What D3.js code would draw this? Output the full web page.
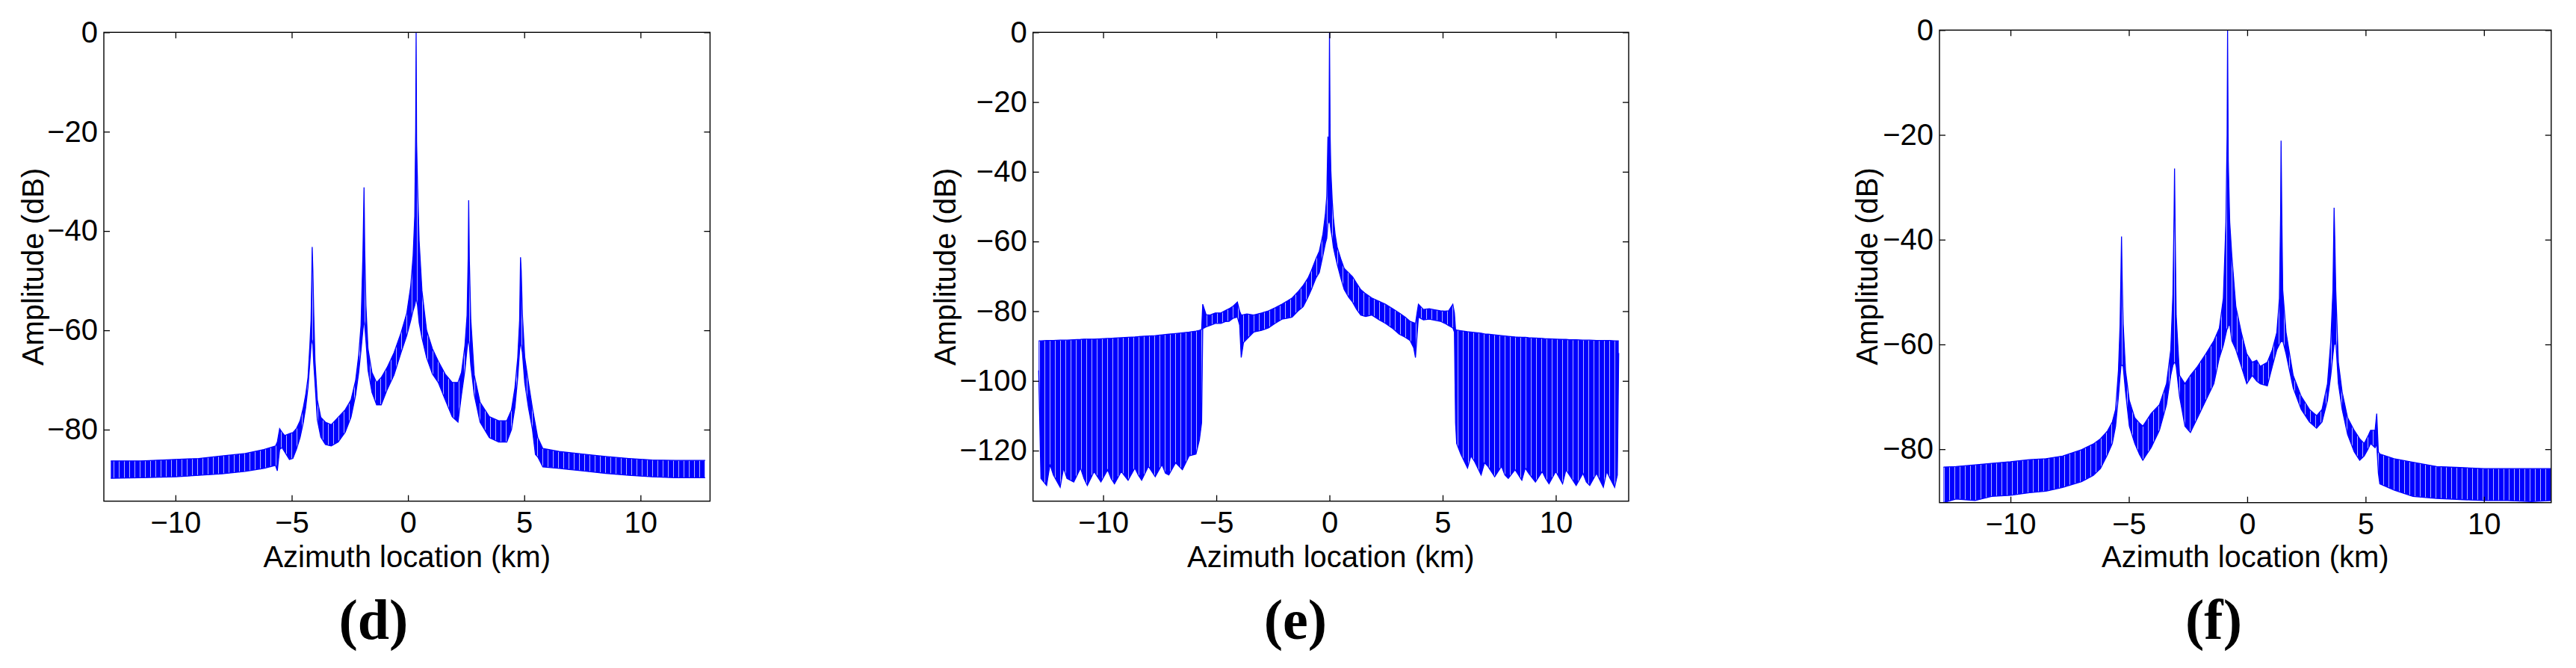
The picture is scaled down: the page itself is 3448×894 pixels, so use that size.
<!DOCTYPE html>
<html>
<head>
<meta charset="utf-8">
<script src="https://cdn.jsdelivr.net/npm/d3@7"></script>
<style>
  body { margin: 0; background: #fff; }
  svg { display: block; }
</style>
</head>
<body>
<svg id="chart" width="3448" height="894"></svg>
<script>
// traces: [azimuth km, upper edge dB, lower edge dB]
const traceD = [
  [-12.78, -86.3, -89.8], [-11.5, -86.3, -89.7], [-10.0, -86.0, -89.5], [-9.0, -85.8, -89.2],
  [-8.0, -85.3, -88.9], [-7.0, -84.8, -88.4], [-6.2, -84.0, -87.8], [-5.7, -83.3, -87.2],
  [-5.62, -82.5, -88.3], [-5.52, -79.8, -84.0], [-5.42, -80.5, -83.6], [-5.3, -81.2, -84.5],
  [-5.1, -80.8, -86.0], [-4.95, -80.6, -85.8], [-4.8, -79.8, -84.0], [-4.64, -78.2, -81.6],
  [-4.5, -75.5, -78.5], [-4.4, -73.0, -75.6], [-4.3, -69.5, -71.5], [-4.22, -63.0, -66.5],
  [-4.17, -58.0, -63.0], [-4.14, -50.0, -62.0], [-4.12, -43.2, -62.0], [-4.09, -48.0, -63.0],
  [-4.05, -57.0, -67.0], [-4.0, -66.0, -70.5], [-3.9, -74.0, -78.0], [-3.75, -77.5, -81.5],
  [-3.55, -78.5, -83.0], [-3.3, -79.0, -83.3], [-3.0, -77.5, -82.5], [-2.7, -76.0, -80.5],
  [-2.45, -74.0, -77.5], [-2.25, -70.0, -73.0], [-2.12, -65.0, -68.5], [-2.02, -59.0, -64.0],
  [-1.94, -45.0, -60.0], [-1.89, -31.2, -58.0], [-1.86, -44.0, -59.0], [-1.81, -55.0, -62.0],
  [-1.72, -63.7, -68.0], [-1.55, -68.5, -72.5], [-1.35, -70.5, -75.0], [-1.15, -69.5, -75.0],
  [-0.9, -67.5, -72.0], [-0.6, -64.5, -69.0], [-0.3, -60.5, -64.5], [-0.05, -56.5, -61.0],
  [0.12, -51.0, -58.0], [0.22, -45.0, -56.0], [0.29, -37.0, -55.0], [0.33, -20.0, -54.0],
  [0.35, 0, -54.0], [0.37, -22.0, -54.0], [0.41, -30.5, -55.0], [0.48, -42.0, -58.5],
  [0.6, -52.0, -61.5], [0.8, -60.0, -65.5], [1.05, -63.7, -68.8], [1.3, -66.2, -70.5],
  [1.6, -68.8, -74.0], [1.9, -70.5, -77.4], [2.15, -70.5, -78.5], [2.3, -68.5, -73.0],
  [2.45, -63.0, -68.0], [2.54, -57.0, -63.7], [2.59, -45.0, -62.0], [2.61, -33.8, -62.0],
  [2.64, -46.0, -63.0], [2.7, -57.7, -67.0], [2.85, -69.0, -73.0], [3.1, -74.5, -78.5],
  [3.5, -77.4, -81.6], [3.9, -78.2, -82.5], [4.25, -78.2, -82.5], [4.45, -76.0, -80.0],
  [4.6, -71.5, -75.5], [4.72, -65.5, -69.5], [4.8, -58.0, -64.0], [4.84, -45.3, -62.5],
  [4.87, -48.0, -63.0], [4.92, -56.8, -64.5], [5.02, -65.4, -70.5], [5.18, -70.5, -75.6],
  [5.35, -75.6, -79.9], [5.48, -79.0, -85.0], [5.58, -81.6, -85.5], [5.8, -83.8, -87.5],
  [6.5, -84.4, -87.8], [7.5, -84.9, -88.3], [8.5, -85.4, -88.8], [9.5, -85.8, -89.2],
  [10.5, -86.1, -89.5], [11.5, -86.2, -89.7], [12.78, -86.2, -89.7]
];

const traceE = [
  [-12.85, -88.5, -97], [-12.75, -88.5, -128], [-12.5, -88.4, -130], [-12.35, -88.4, -124],
  [-12.2, -88.4, -127], [-11.9, -88.3, -130.5], [-11.75, -88.3, -125], [-11.6, -88.3, -128],
  [-11.3, -88.2, -129], [-11.0, -88.1, -125], [-10.85, -88.0, -128], [-10.7, -88.0, -130],
  [-10.4, -88.0, -126], [-10.1, -87.9, -129], [-9.8, -87.8, -125.5], [-9.65, -87.8, -128],
  [-9.5, -87.7, -129.5], [-9.2, -87.6, -126], [-8.9, -87.5, -128.5], [-8.6, -87.4, -125],
  [-8.45, -87.3, -127], [-8.3, -87.2, -128.5], [-8.0, -87.1, -124.5], [-7.7, -87.0, -127.5],
  [-7.4, -86.8, -124], [-7.25, -86.7, -126.5], [-7.1, -86.6, -127], [-6.8, -86.4, -123.5],
  [-6.5, -86.2, -125.5], [-6.2, -86.0, -121.5], [-5.9, -85.7, -121], [-5.75, -85.5, -117],
  [-5.65, -85.2, -112], [-5.6, -78.0, -85.0],
  [-5.45, -81.0, -84.5], [-5.28, -81.1, -84.1], [-5.05, -80.5, -83.5], [-4.8, -80.5, -83.5],
  [-4.6, -79.8, -83.0], [-4.44, -79.3, -82.9], [-4.25, -78.5, -82.0], [-4.07, -77.4, -81.7],
  [-3.97, -80.0, -84.0], [-3.9, -81.1, -93.3], [-3.8, -81.0, -89.0], [-3.65, -80.8, -88.0],
  [-3.35, -81.1, -86.0], [-3.0, -80.5, -85.5], [-2.7, -79.9, -84.8], [-2.4, -79.0, -83.5],
  [-2.1, -78.0, -82.3], [-1.85, -77.0, -82.0], [-1.65, -76.2, -81.7], [-1.4, -74.5, -80.0],
  [-1.16, -72.6, -78.7], [-0.95, -70.5, -76.0], [-0.8, -68.3, -73.8], [-0.6, -65.0, -70.5],
  [-0.45, -62.8, -68.9], [-0.29, -57.9, -64.0], [-0.18, -52.0, -60.5], [-0.12, -47.0, -59.1],
  [-0.07, -29.9, -55.0], [-0.03, -40.0, -54.3], [0.0, 0, -54.3], [0.03, -30.0, -55.0],
  [0.06, -39.6, -56.7], [0.12, -48.0, -59.0], [0.17, -53.0, -61.6], [0.25, -58.0, -64.0],
  [0.34, -61.6, -66.5], [0.5, -65.0, -70.5], [0.65, -67.7, -73.8], [0.85, -69.0, -76.0],
  [1.02, -70.1, -77.4], [1.2, -72.0, -79.5], [1.38, -73.8, -81.1], [1.6, -75.0, -81.5],
  [1.87, -76.2, -81.1], [2.2, -77.2, -82.5], [2.47, -78.0, -83.5], [2.8, -79.3, -85.0],
  [3.08, -80.5, -86.6], [3.35, -81.7, -87.5], [3.56, -82.9, -88.4], [3.72, -83.3, -90.5],
  [3.8, -83.5, -93.3], [3.88, -80.0, -86.0], [3.93, -78.0, -81.7], [4.15, -79.5, -82.5],
  [4.41, -79.3, -82.3], [4.65, -79.6, -82.6], [4.9, -79.9, -82.9], [5.1, -80.0, -83.5],
  [5.26, -79.9, -84.1], [5.45, -78.0, -84.8], [5.52, -80.5, -86.0], [5.57, -85.3, -112],
  [5.62, -85.4, -118], [5.8, -85.6, -121], [6.1, -85.9, -125], [6.25, -86.0, -121.5],
  [6.4, -86.1, -123], [6.7, -86.3, -127], [6.85, -86.5, -123.5], [7.0, -86.6, -124.5],
  [7.3, -86.8, -127.5], [7.6, -87.0, -124.5], [7.75, -87.1, -127], [7.9, -87.2, -128],
  [8.2, -87.4, -125.5], [8.5, -87.5, -128.5], [8.65, -87.5, -125], [8.8, -87.6, -126.5],
  [9.1, -87.7, -129], [9.4, -87.8, -126], [9.55, -87.9, -128], [9.7, -87.9, -129.5],
  [10.0, -88.0, -126], [10.3, -88.1, -129.5], [10.45, -88.1, -125.5], [10.6, -88.2, -127],
  [10.9, -88.2, -130], [11.2, -88.3, -126.5], [11.35, -88.3, -129], [11.5, -88.3, -130],
  [11.8, -88.4, -126.5], [12.1, -88.4, -130.5], [12.25, -88.4, -126], [12.4, -88.4, -128],
  [12.6, -88.5, -130.5], [12.72, -88.5, -127], [12.78, -88.5, -92]
];

const traceF = [
  [-12.83, -83.4, -90.2], [-12.3, -83.3, -89.5], [-11.5, -83.0, -89.8], [-10.8, -82.7, -89.0],
  [-10.0, -82.4, -88.8], [-9.2, -82.0, -88.3], [-8.5, -81.8, -88.0], [-7.8, -81.3, -87.3],
  [-7.0, -80.1, -86.2], [-6.5, -79.0, -85.0], [-6.2, -78.0, -83.7], [-5.9, -76.5, -81.0],
  [-5.7, -74.8, -78.9], [-5.56, -72.4, -75.6], [-5.44, -65.0, -69.9], [-5.37, -56.1, -66.0],
  [-5.33, -45.0, -64.0], [-5.31, -39.4, -64.0], [-5.28, -48.0, -64.0], [-5.24, -56.1, -64.2],
  [-5.14, -65.0, -69.1], [-4.98, -70.7, -75.6], [-4.75, -74.0, -78.9], [-4.55, -75.0, -81.0],
  [-4.41, -75.6, -82.1], [-4.25, -74.5, -81.0], [-4.06, -73.2, -79.7], [-3.71, -71.5, -76.4],
  [-3.41, -67.5, -71.5], [-3.23, -61.0, -65.9], [-3.14, -50.4, -64.0], [-3.09, -35.0, -63.5],
  [-3.07, -26.4, -63.5], [-3.04, -40.0, -63.5], [-3.0, -54.5, -64.2], [-2.86, -65.9, -69.9],
  [-2.63, -67.5, -75.6], [-2.4, -65.9, -76.8], [-2.1, -64.2, -74.0], [-1.75, -61.8, -70.7],
  [-1.41, -59.3, -67.5], [-1.18, -56.9, -62.6], [-1.01, -51.2, -60.2], [-0.9, -36.6, -58.0],
  [-0.85, -20.0, -57.0], [-0.83, 0, -57.0], [-0.8, -25.0, -56.5], [-0.74, -36.6, -56.1],
  [-0.65, -43.1, -59.3], [-0.48, -52.8, -61.0], [-0.25, -57.7, -64.2], [-0.02, -61.8, -67.5],
  [0.21, -63.4, -65.9], [0.4, -63.0, -67.0], [0.55, -64.2, -67.5], [0.85, -63.4, -67.9],
  [1.06, -61.0, -64.2], [1.25, -57.7, -61.0], [1.36, -51.2, -60.0], [1.41, -35.0, -59.5],
  [1.43, -21.1, -59.5], [1.46, -35.0, -59.5], [1.5, -49.6, -59.3], [1.64, -57.7, -61.8],
  [1.94, -65.9, -68.3], [2.28, -69.9, -72.4], [2.63, -72.4, -74.8], [2.93, -73.6, -76.0],
  [3.16, -72.4, -74.8], [3.39, -67.5, -70.7], [3.53, -59.3, -65.9], [3.62, -49.6, -62.0],
  [3.67, -33.9, -60.0], [3.7, -40.0, -60.0], [3.74, -49.6, -59.3], [3.85, -63.4, -67.5],
  [4.01, -69.1, -72.4], [4.24, -74.0, -77.2], [4.52, -76.4, -80.5], [4.75, -78.0, -82.1],
  [4.94, -78.9, -81.3], [5.1, -77.5, -80.0], [5.21, -76.4, -78.9], [5.4, -76.4, -79.7],
  [5.47, -73.2, -79.0], [5.54, -80.5, -84.6], [5.6, -80.9, -86.6], [6.2, -81.8, -87.8],
  [7.0, -82.5, -89.0], [8.0, -83.3, -89.4], [9.0, -83.5, -89.6], [10.0, -83.7, -89.8],
  [11.0, -83.7, -89.8], [12.0, -83.7, -90.0], [12.84, -83.7, -89.8]
];

const xTicks = [-10, -5, 0, 5, 10];
const yTicksD = [0, -20, -40, -60, -80];
const yTicksE = [0, -20, -40, -60, -80, -100, -120];
const yTicksF = [0, -20, -40, -60, -80];
const panelLabels = ['(d)', '(e)', '(f)'];
const xTitle = 'Azimuth location (km)';
const yTitle = 'Amplitude (dB)';

// axis ranges and pixel boxes of the three panels
const panels = [
  { trace: traceD, yTicks: yTicksD, xDom: [-13.08, 12.99], yDom: [-94.4, 0],
    left: 139, right: 950.4, top: 43.3, bottom: 670.7, yLabX: 44, tagX: 500 },
  { trace: traceE, yTicks: yTicksE, xDom: [-13.10, 13.22], yDom: [-134.5, 0],
    left: 1382.7, right: 2180, top: 43.3, bottom: 670.7, yLabX: 1265, tagX: 1734 },
  { trace: traceF, yTicks: yTicksF, xDom: [-13.0, 12.84], yDom: [-90.2, 0],
    left: 2596, right: 3414.8, top: 40.3, bottom: 672.7, yLabX: 2499, tagX: 2963 }
];

const svg = d3.select('#chart');
const blue = '#0000ff';
const sans = '"Liberation Sans", Arial, Helvetica, sans-serif';

// the dense trace shows as a blue band with thin white streaks
const stripes = svg.append('defs').append('pattern')
  .attr('id', 'streaks').attr('patternUnits', 'userSpaceOnUse')
  .attr('width', 7).attr('height', 20);
stripes.append('rect').attr('width', 7).attr('height', 20).attr('fill', blue);
stripes.append('rect').attr('x', 5).attr('width', 1).attr('height', 20)
  .attr('fill', '#fff').attr('opacity', 0.7);

panels.forEach((p, i) => {
  const x = d3.scaleLinear().domain(p.xDom).range([p.left, p.right]);
  const y = d3.scaleLinear().domain(p.yDom).range([p.bottom, p.top]);

  const clipId = 'clip' + i;
  svg.append('clipPath').attr('id', clipId)
    .append('rect')
    .attr('x', p.left).attr('y', p.top)
    .attr('width', p.right - p.left).attr('height', p.bottom - p.top);

  const g = svg.append('g').attr('clip-path', `url(#${clipId})`);

  const area = d3.area()
    .x(d => x(d[0]))
    .y0(d => y(d[2]))
    .y1(d => y(d[1]));
  const upper = d3.line().x(d => x(d[0])).y(d => y(d[1]));
  const lower = d3.line().x(d => x(d[0])).y(d => y(d[2]));

  g.append('path').datum(p.trace).attr('d', area).attr('fill', 'url(#streaks)');
  g.append('path').datum(p.trace).attr('d', upper)
    .attr('fill', 'none').attr('stroke', blue).attr('stroke-width', 1.3);
  g.append('path').datum(p.trace).attr('d', lower)
    .attr('fill', 'none').attr('stroke', blue).attr('stroke-width', 1.3);

  // axes, ticks inside like matlab
  const bottomAx = svg.append('g').attr('transform', `translate(0,${p.bottom})`)
    .call(d3.axisBottom(x).tickValues(xTicks).tickSize(-8).tickSizeOuter(0).tickPadding(14));
  const topAx = svg.append('g').attr('transform', `translate(0,${p.top})`)
    .call(d3.axisTop(x).tickValues(xTicks).tickSize(-8).tickSizeOuter(0).tickFormat(''));
  const leftAx = svg.append('g').attr('transform', `translate(${p.left},0)`)
    .call(d3.axisLeft(y).tickValues(p.yTicks).tickSize(-8).tickSizeOuter(0).tickPadding(8));
  const rightAx = svg.append('g').attr('transform', `translate(${p.right},0)`)
    .call(d3.axisRight(y).tickValues(p.yTicks).tickSize(-8).tickSizeOuter(0).tickFormat(''));

  [bottomAx, topAx, leftAx, rightAx].forEach(ax => {
    ax.select('.domain').remove();
    ax.selectAll('line').attr('stroke', '#000').attr('stroke-width', 1.3);
    ax.selectAll('text')
      .attr('font-family', sans).attr('font-size', 40).attr('fill', '#000');
  });

  svg.append('rect')
    .attr('x', p.left).attr('y', p.top)
    .attr('width', p.right - p.left).attr('height', p.bottom - p.top)
    .attr('fill', 'none').attr('stroke', '#000').attr('stroke-width', 1.4);

  svg.append('text')
    .attr('x', (p.left + p.right) / 2).attr('y', 759)
    .attr('text-anchor', 'middle')
    .attr('font-family', sans).attr('font-size', 40)
    .text(xTitle);

  const yMid = (p.top + p.bottom) / 2;
  svg.append('text')
    .attr('transform', `translate(${p.yLabX},${yMid}) rotate(-90)`)
    .attr('text-anchor', 'middle').attr('dy', '0.35em')
    .attr('font-family', sans).attr('font-size', 40)
    .text(yTitle);

  svg.append('text')
    .attr('x', p.tagX).attr('y', 855)
    .attr('text-anchor', 'middle')
    .attr('font-family', '"Liberation Serif", "Times New Roman", serif')
    .attr('font-weight', 'bold').attr('font-size', 76)
    .text(panelLabels[i]);
});
</script>
</body>
</html>
